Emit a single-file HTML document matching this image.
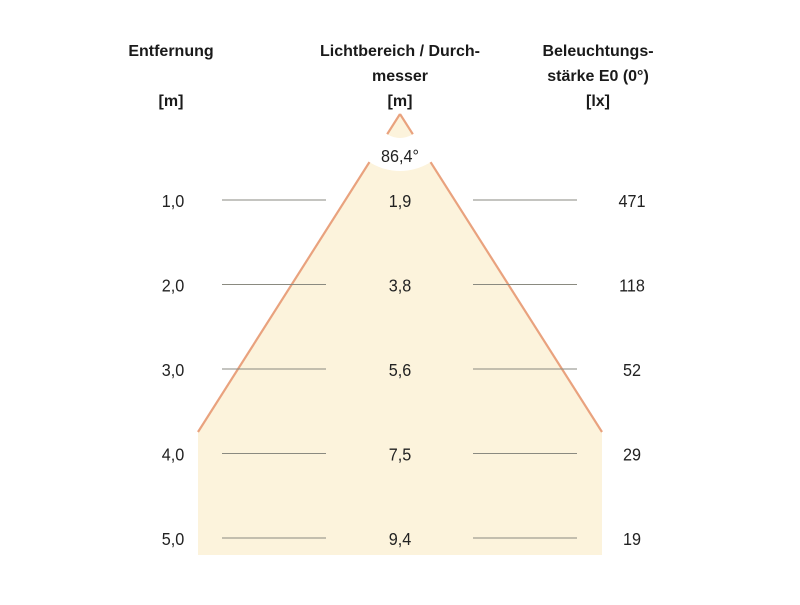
<!DOCTYPE html>
<html><head><meta charset="utf-8"><style>
body{margin:0;background:#fff;}
svg text{font-family:"Liberation Sans",Arial,sans-serif;}
</style></head><body>
<svg width="800" height="600" viewBox="0 0 800 600">
<defs><clipPath id="tri"><polygon points="400,108 190,436 610,436"/></clipPath></defs>
<polygon points="400,114 198,432 198,555 602,555 602,432" fill="#fcf3dc"/>
<line x1="400" y1="114" x2="198" y2="432" stroke="#e9a27e" stroke-width="2.2"/>
<line x1="400" y1="114" x2="602" y2="432" stroke="#e9a27e" stroke-width="2.2"/>
<path clip-path="url(#tri)" fill="#fff" fill-rule="evenodd" d="M400,57 a57,57 0 1,0 0.1,0 Z M400,90 a24,24 0 1,0 0.1,0 Z"/>
<text x="0" y="0" transform="translate(400,162) scale(0.9,1)" font-size="18" text-anchor="middle" fill="#222">86,4°</text>
<g font-weight="bold" font-size="16" fill="#1a1a1a" text-anchor="middle">
<text x="171" y="56">Entfernung</text>
<text x="171" y="106">[m]</text>
<text x="400" y="56">Lichtbereich / Durch-</text>
<text x="400" y="81">messer</text>
<text x="400" y="106">[m]</text>
<text x="598" y="56">Beleuchtungs-</text>
<text x="598" y="81">stärke E0 (0°)</text>
<text x="598" y="106">[lx]</text>
</g>
<g id="rows"></g>
</svg>
<script>
const distances=["1,0","2,0","3,0","4,0","5,0"];
const diameters=["1,9","3,8","5,6","7,5","9,4"];
const lux=["471","118","52","29","19"];
const g=document.getElementById('rows');
const NS="http://www.w3.org/2000/svg";
function rowY(i){return 200+i*84.5;}
function txt(x,y,s){const t=document.createElementNS(NS,'text');t.setAttribute('x',0);t.setAttribute('y',0);t.setAttribute('transform','translate('+x+','+(y+7)+') scale(0.9,1)');t.setAttribute('font-size','18');t.setAttribute('fill','#222');t.setAttribute('text-anchor','middle');t.textContent=s;g.appendChild(t);return t;}
function ln(x1,x2,y){const l=document.createElementNS(NS,'line');l.setAttribute('x1',x1);l.setAttribute('x2',x2);l.setAttribute('y1',y);l.setAttribute('y2',y);l.setAttribute('stroke','#8a8a80');l.setAttribute('stroke-width','1');g.appendChild(l);return l;}
distances.forEach((d,i)=>{
const y=rowY(i);
let a=txt(173,y,d);


let b=txt(400,y,diameters[i]);


let c=txt(632,y,lux[i]);


let l1=ln(222,326,y);


let l2=ln(473,577,y);


});
</script>
</body></html>
